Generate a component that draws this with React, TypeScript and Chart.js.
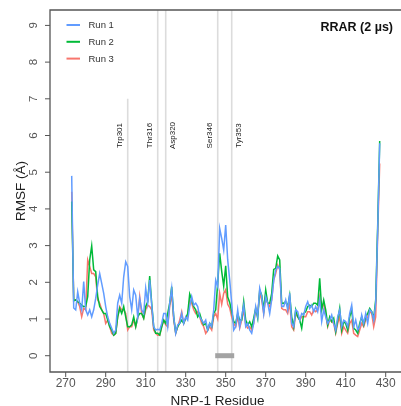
import React, { useEffect, useRef } from "react";
import { Chart, registerables } from "chart.js";

Chart.register(...registerables);

// ---------- data ----------
const FIRST_RESIDUE = 273;

const run1 = [
  4.9, 1.3, 1.25, 1.74, 1.43, 1.25, 2.02, 1.25, 1.11, 1.25,
  1.06, 1.25, 1.56, 1.93, 2.24, 1.97, 1.7, 1.34, 1.06, 0.88,
  0.75, 0.61, 0.7, 1.43, 1.65, 1.43, 2.15, 2.56, 2.43, 1.61,
  1.25, 1.79, 1.65, 1.06, 1.56, 1.25, 1.15, 1.84, 1.43, 2.06,
  1.38, 0.79, 0.7, 0.72, 0.7, 0.88, 1.15, 1.15, 0.79, 1.43,
  1.84, 1.06, 0.61, 0.84, 0.88, 1.15, 0.88, 1.06, 0.97, 1.34,
  1.61, 1.38, 1.43, 1.34, 1.06, 0.97, 0.88, 0.97, 0.7, 0.88,
  0.79, 1.25, 2.06, 1.88, 3.47, 3.2, 2.88, 3.56, 2.61, 2.06,
  1.43, 0.7, 0.79, 1.25, 0.79, 1.06, 1.38, 0.79, 0.88, 0.7,
  0.61, 0.88, 1.34, 1.06, 1.84, 1.61, 1.15, 1.61, 1.43, 1.15,
  1.52, 2.06, 2.33, 2.43, 2.38, 1.34, 1.34, 1.52, 1.25, 1.7,
  0.88, 0.79, 1.25, 1.2, 0.97, 1.15, 1.11, 1.34, 1.47, 1.29,
  1.38, 1.2, 1.34, 1.2, 1.52, 0.93, 1.25, 1.06, 0.88, 0.97,
  1.11, 0.88, 0.7, 1.06, 1.25, 0.79, 0.97, 0.93, 0.79, 1.15,
  1.38, 0.79, 0.97, 0.7, 0.79, 1.11, 0.88, 1.15, 0.88, 1.25,
  1.2, 0.97, 1.43, 3.43, 5.79,
];

const run2 = [
  4.2, 1.5, 1.52, 1.47, 1.43, 1.38, 1.34, 1.34, 1.61, 2.61,
  2.99, 2.34, 2.29, 1.61, 1.34, 1.25, 1.15, 1.15, 0.97, 0.79,
  0.7, 0.56, 0.61, 1.06, 1.29, 1.15, 1.34, 1.06, 0.79, 0.79,
  0.84, 1.06, 0.79, 1.06, 1.15, 1.15, 1.02, 1.34, 1.47, 2.17,
  1.43, 0.79, 0.61, 0.61, 0.56, 0.79, 0.97, 0.88, 1.15, 1.43,
  1.88, 1.06, 0.63, 0.79, 0.88, 0.97, 0.88, 1.02, 1.15, 1.68,
  1.52, 1.34, 1.25, 1.06, 1.15, 0.97, 0.84, 0.88, 0.7, 0.88,
  0.79, 1.15, 1.25, 1.97, 2.79, 2.3, 1.9, 2.45, 1.6, 1.45,
  1.2, 0.93, 0.88, 1.15, 0.97, 0.97, 1.47, 0.97, 0.84, 0.93,
  0.79, 1.02, 1.29, 1.02, 1.79, 1.65, 1.25, 1.79, 1.43, 1.43,
  1.7, 2.35, 2.38, 2.72, 2.61, 1.43, 1.43, 1.47, 1.34, 1.65,
  1.06, 0.79, 1.25, 1.06, 0.97, 0.75, 1.15, 1.2, 1.34, 1.38,
  1.34, 1.43, 1.43, 1.38, 2.11, 1.25, 1.52, 1.25, 0.84, 1.06,
  0.93, 1.02, 0.66, 0.97, 1.29, 0.7, 0.93, 0.88, 0.7, 1.06,
  1.25, 0.75, 0.7, 0.61, 0.88, 1.06, 0.84, 1.06, 1.15, 1.29,
  1.2, 1.02, 1.52, 3.56, 5.85,
];

const run3 = [
  4.47, 1.5, 1.52, 1.47, 1.34, 1.06, 1.29, 1.25, 2.61, 2.43,
  2.24, 2.24, 2.15, 1.52, 1.43, 1.25, 1.15, 0.88, 0.97, 0.79,
  0.61, 0.56, 0.61, 1.06, 1.34, 1.25, 1.25, 1.15, 0.7, 0.79,
  0.79, 0.97, 0.79, 1.02, 1.61, 1.15, 1.02, 1.25, 1.38, 1.34,
  1.25, 0.7, 0.61, 0.56, 0.56, 0.79, 0.97, 0.84, 0.79, 1.34,
  1.7, 0.97, 0.61, 0.79, 0.97, 1.2, 0.88, 1.02, 1.06, 1.52,
  1.43, 1.25, 1.15, 1.2, 1.06, 0.88, 0.79, 0.61, 0.7, 0.79,
  0.7, 1.06, 1.15, 1.0, 1.7, 1.4, 1.7, 1.8, 1.4, 1.3,
  1.05, 0.88, 0.79, 1.06, 0.75, 0.97, 1.25, 0.84, 0.75, 0.79,
  0.7, 0.88, 1.25, 1.15, 1.7, 1.52, 1.15, 1.61, 1.43, 1.34,
  1.52, 2.06, 2.24, 2.47, 2.34, 1.29, 1.25, 1.25, 1.15, 1.43,
  0.79, 0.7, 1.15, 1.06, 0.97, 1.06, 1.06, 1.06, 1.2, 1.2,
  1.11, 1.25, 1.2, 1.25, 1.61, 1.29, 1.43, 1.11, 0.79, 0.97,
  0.93, 0.88, 0.61, 0.88, 1.06, 0.61, 0.79, 0.7, 0.61, 0.88,
  0.97, 0.61, 0.56, 0.52, 0.7, 0.88, 0.79, 0.97, 1.06, 1.2,
  1.15, 0.79, 1.06, 3.33, 5.24,
];

const seriesNames = ["Run 1", "Run 2", "Run 3"];
const seriesValues = [run1, run2, run3];
const seriesColors = ["#619CFF", "#00BA38", "#F8766D"];

const markerResidues = [301, 316, 320, 346, 353];
const markerLabels = ["Trp301", "Thr316", "Asp320", "Ser346", "Tyr353"];
const markerLineTops: (number | null)[] = [7, null, null, null, null];
const markerLabelValue = 6;

const bindingSegment = [346, 353];

const xTicks = [270, 290, 310, 330, 350, 370, 390, 410, 430];
const yTicks = [0, 1, 2, 3, 4, 5, 6, 7, 8, 9];

const titleText = "RRAR (2 µs)";
const xTitle = "NRP-1 Residue";
const yTitle = "RMSF (Å)";

// ---------- styles ----------
const FONT = "'Liberation Sans', Arial, Helvetica, sans-serif";
const markerLabelSide = [-1, -1, 1, -1, 1];

const decorPlugin = {
  id: "decor",
  beforeDatasetsDraw(chart: any) {
    const { ctx, chartArea, scales } = chart;
    const xs = scales.x;
    const ys = scales.y;
    ctx.save();
    ctx.strokeStyle = "#dcdcdc";
    ctx.lineWidth = 1.6;
    markerResidues.forEach((r, i) => {
      const x = xs.getPixelForValue(r);
      const topV = markerLineTops[i];
      const yTop = topV == null ? chartArea.top : ys.getPixelForValue(topV);
      ctx.beginPath();
      ctx.moveTo(x, yTop);
      ctx.lineTo(x, chartArea.bottom);
      ctx.stroke();
    });
    ctx.fillStyle = "#222";
    ctx.font = `8px ${FONT}`;
    ctx.textAlign = "center";
    ctx.textBaseline = "middle";
    markerResidues.forEach((r, i) => {
      const x = xs.getPixelForValue(r) + markerLabelSide[i] * 7.5;
      const y = ys.getPixelForValue(markerLabelValue);
      ctx.save();
      ctx.translate(x, y);
      ctx.rotate(-Math.PI / 2);
      ctx.fillText(markerLabels[i], 0, 0);
      ctx.restore();
    });
    ctx.restore();
  },
  afterDatasetsDraw(chart: any) {
    const { ctx, chartArea, scales } = chart;
    const xs = scales.x;
    const ys = scales.y;
    const { left, right, top, bottom } = chartArea;
    ctx.save();
    // frame (open on the right)
    ctx.strokeStyle = "#555";
    ctx.lineWidth = 1.3;
    ctx.beginPath();
    ctx.moveTo(right, top);
    ctx.lineTo(left, top);
    ctx.lineTo(left, bottom);
    ctx.lineTo(right, bottom);
    ctx.stroke();
    // ticks
    ctx.lineWidth = 1;
    ctx.beginPath();
    yTicks.forEach((v) => {
      const y = ys.getPixelForValue(v);
      ctx.moveTo(left - 5, y);
      ctx.lineTo(left, y);
    });
    xTicks.forEach((v) => {
      const x = xs.getPixelForValue(v);
      ctx.moveTo(x, bottom);
      ctx.lineTo(x, bottom + 5);
    });
    ctx.stroke();
    // tick labels
    ctx.fillStyle = "#555";
    ctx.font = `12px ${FONT}`;
    ctx.textAlign = "center";
    ctx.textBaseline = "alphabetic";
    xTicks.forEach((v) => {
      ctx.fillText(String(v), xs.getPixelForValue(v), bottom + 15);
    });
    ctx.font = `11.5px ${FONT}`;
    yTicks.forEach((v) => {
      ctx.save();
      ctx.translate(left - 13, ys.getPixelForValue(v));
      ctx.rotate(-Math.PI / 2);
      ctx.fillText(String(v), 0, 0);
      ctx.restore();
    });
    // axis titles
    ctx.fillStyle = "#222";
    ctx.font = `13.5px ${FONT}`;
    ctx.fillText(xTitle, (left + 385) / 2, 405);
    ctx.save();
    ctx.translate(25, (top + bottom) / 2);
    ctx.rotate(-Math.PI / 2);
    ctx.fillText(yTitle, 0, 0);
    ctx.restore();
    // title
    ctx.font = `bold 12.5px ${FONT}`;
    ctx.textAlign = "right";
    ctx.fillStyle = "#111";
    ctx.fillText(titleText, 393, 31);
    // legend
    ctx.font = `9.5px ${FONT}`;
    ctx.textAlign = "left";
    ctx.fillStyle = "#333";
    seriesNames.forEach((name, i) => {
      const y = 25 + i * 16.8;
      ctx.strokeStyle = seriesColors[i];
      ctx.lineWidth = 2;
      ctx.beginPath();
      ctx.moveTo(66.5, y);
      ctx.lineTo(80, y);
      ctx.stroke();
      ctx.fillText(name, 88.5, y + 3.4);
    });
    ctx.restore();
  },
};

export default function App() {
  const canvasRef = useRef<HTMLCanvasElement | null>(null);

  useEffect(() => {
    document.body.style.margin = "0";
    const canvas = canvasRef.current;
    if (!canvas) return;
    const datasets: any[] = seriesNames.map((name, i) => ({
      label: name,
      data: seriesValues[i].map((v, j) => ({ x: FIRST_RESIDUE + j, y: v })),
      borderColor: seriesColors[i],
      backgroundColor: seriesColors[i],
      borderWidth: 1.5,
      pointRadius: 0,
      tension: 0,
      fill: false,
    }));
    datasets.push({
      label: "segment",
      data: bindingSegment.map((r) => ({ x: r, y: 0 })),
      borderColor: "#a3a3a3",
      borderWidth: 5,
      borderCapStyle: "square",
      pointRadius: 0,
      fill: false,
    });
    const chart = new Chart(canvas, {
      type: "line",
      data: { datasets },
      options: {
        animation: false,
        responsive: false,
        devicePixelRatio: 1,
        events: [],
        layout: { padding: { left: 50, top: 10, right: 0, bottom: 34 } },
        plugins: { legend: { display: false }, tooltip: { enabled: false } },
        scales: {
          x: { type: "linear", min: 262.15, max: 437.65, display: false },
          y: { type: "linear", min: -0.444, max: 9.42, display: false },
        },
      },
      plugins: [decorPlugin],
    });
    return () => chart.destroy();
  }, []);

  return (
    <div style={{ position: "absolute", left: 0, top: 0 }}>
      <canvas ref={canvasRef} width={401} height={406} style={{ display: "block", width: 401, height: 406 }} />
    </div>
  );
}
